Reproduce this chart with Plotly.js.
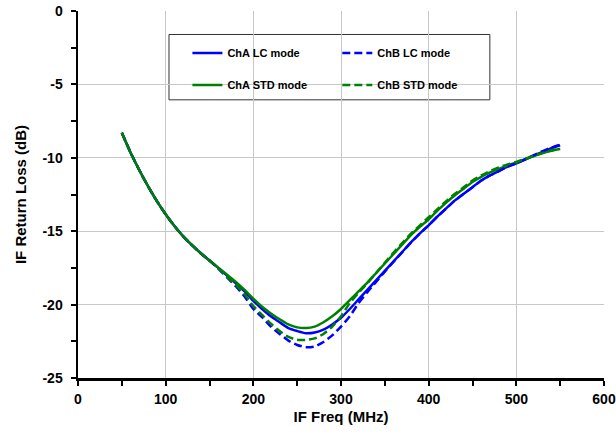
<!DOCTYPE html>
<html>
<head>
<meta charset="utf-8">
<script src="https://cdn.plot.ly/plotly-3.0.1.min.js"></script>
<style>
html, body { margin: 0; padding: 0; background: #fff; }
#chart { width: 616px; height: 435px; }
</style>
</head>
<body>
<div id="chart"></div>
<script>
// IF frequency (MHz)
const freq = [50, 60, 70, 80, 90, 100, 110, 120, 130, 140, 150, 160, 170, 180, 190, 200,
  210, 220, 230, 240, 250, 260, 270, 280, 290, 300, 310, 320, 330, 340, 350, 360, 370, 380,
  390, 400, 410, 420, 430, 440, 450, 460, 470, 480, 490, 500, 510, 520, 530, 540, 550];

// IF return loss (dB)
const chaLC = [-8.3, -9.65, -10.85, -11.95, -12.95, -13.85, -14.65, -15.35, -15.95, -16.5, -17.0, -17.5,
  -18.02, -18.55, -19.1, -19.75, -20.3, -20.8, -21.2, -21.6, -21.8, -21.95, -21.9, -21.7, -21.35,
  -20.9, -20.3, -19.65, -19.0, -18.35, -17.7, -17.05, -16.4, -15.75, -15.15, -14.6, -14.0, -13.45,
  -12.9, -12.45, -12.0, -11.55, -11.2, -10.9, -10.6, -10.38, -10.12, -9.85, -9.6, -9.35, -9.15];

const chbLC = [-8.3, -9.65, -10.85, -11.95, -12.95, -13.85, -14.65, -15.35, -15.95, -16.5, -17.0, -17.55,
  -18.15, -18.75, -19.45, -20.3, -20.85, -21.5, -22.0, -22.45, -22.75, -22.9, -22.85, -22.55, -22.1,
  -21.5, -20.8, -19.9, -19.15, -18.45, -17.75, -17.08, -16.42, -15.77, -15.15, -14.6, -14.0, -13.45,
  -12.9, -12.45, -12.0, -11.55, -11.2, -10.9, -10.6, -10.37, -10.1, -9.82, -9.55, -9.3, -9.1];

const chaSTD = [-8.3, -9.65, -10.85, -11.95, -12.95, -13.85, -14.65, -15.35, -15.95, -16.5, -17.0, -17.48,
  -17.97, -18.45, -19.0, -19.6, -20.15, -20.6, -21.0, -21.35, -21.55, -21.6, -21.5, -21.2, -20.8,
  -20.3, -19.7, -19.1, -18.5, -17.85, -17.2, -16.55, -15.9, -15.25, -14.7, -14.2, -13.6, -13.05,
  -12.55, -12.1, -11.65, -11.3, -11.0, -10.75, -10.52, -10.32, -10.1, -9.88, -9.68, -9.52, -9.4];

const chbSTD = [-8.3, -9.65, -10.85, -11.95, -12.95, -13.85, -14.65, -15.35, -15.95, -16.5, -17.0, -17.52,
  -18.1, -18.65, -19.3, -20.1, -20.7, -21.3, -21.8, -22.2, -22.4, -22.4, -22.3, -22.0, -21.5,
  -20.8, -19.9, -19.2, -18.55, -17.85, -17.15, -16.45, -15.8, -15.15, -14.6, -14.05, -13.5, -12.95,
  -12.45, -12.0, -11.55, -11.2, -10.9, -10.65, -10.45, -10.28, -10.07, -9.86, -9.67, -9.5, -9.38];

const seriesNames = ['ChA LC mode', 'ChB LC mode', 'ChA STD mode', 'ChB STD mode'];
const xTickVals = [0, 100, 200, 300, 400, 500, 600];
const yTickVals = [0, -5, -10, -15, -20, -25];

const FONT = 'Liberation Sans, Arial, sans-serif';
const BLUE = '#0000ff';
const GREEN = '#008000';
const DASH = '8px,4px';

const traces = [
  { x: freq, y: chaLC, name: seriesNames[0], legend: 'legend', legendgroup: 'a1',
    mode: 'lines', line: { color: BLUE, width: 2.5, shape: 'spline', smoothing: 0.6 } },
  { x: freq, y: chaSTD, name: seriesNames[2], legend: 'legend', legendgroup: 'a2',
    mode: 'lines', line: { color: GREEN, width: 2.5, shape: 'spline', smoothing: 0.6 } },
  { x: freq, y: chbLC, name: seriesNames[1], legend: 'legend2', legendgroup: 'b1',
    mode: 'lines', line: { color: BLUE, width: 2.5, dash: DASH, shape: 'spline', smoothing: 0.6 } },
  { x: freq, y: chbSTD, name: seriesNames[3], legend: 'legend2', legendgroup: 'b2',
    mode: 'lines', line: { color: GREEN, width: 2.5, dash: DASH, shape: 'spline', smoothing: 0.6 } }
];

const legendCommon = {
  orientation: 'v', bgcolor: 'rgba(0,0,0,0)', borderwidth: 0,
  font: { family: FONT, size: 11, color: '#000', weight: 'bold' },
  tracegroupgap: 13, xanchor: 'left', yanchor: 'top', itemwidth: 30
};

const bold = v => '<b>' + v + '</b>';

const layout = {
  width: 616, height: 435,
  margin: { l: 78, r: 12, t: 11, b: 57 },
  paper_bgcolor: '#fff', plot_bgcolor: '#fff',
  font: { family: FONT, color: '#000' },
  showlegend: true,
  legend: Object.assign({}, legendCommon, { x: 0.208, y: 0.925 }),
  legend2: Object.assign({}, legendCommon, { x: 0.493, y: 0.925 }),
  shapes: [{
    type: 'rect', xref: 'paper', yref: 'paper',
    x0: 0.173, x1: 0.783, y0: 0.758, y1: 0.936,
    line: { color: '#333', width: 1 }, fillcolor: 'rgba(0,0,0,0)', layer: 'below'
  }],
  xaxis: {
    range: [0, 600], tickvals: xTickVals, ticktext: xTickVals.map(bold),
    showgrid: true, gridcolor: '#c8c8c8', gridwidth: 1, zeroline: false,
    showline: true, linecolor: '#000', linewidth: 2.5,
    ticks: 'outside', ticklen: 5, tickwidth: 2, tickcolor: '#000',
    minor: { dtick: 50, tick0: 0, ticks: 'outside', ticklen: 5, tickwidth: 2, tickcolor: '#000', showgrid: false },
    tickfont: { family: FONT, size: 14, color: '#000' },
    ticklabelstandoff: 2,
    title: { text: '<b>IF Freq (MHz)</b>', font: { family: FONT, size: 15, color: '#000' }, standoff: 5 }
  },
  yaxis: {
    range: [-25, 0], tickvals: yTickVals, ticktext: yTickVals.map(bold),
    showgrid: true, gridcolor: '#c8c8c8', gridwidth: 1, zeroline: false,
    showline: true, linecolor: '#000', linewidth: 2.5,
    ticks: 'outside', ticklen: 5, tickwidth: 2, tickcolor: '#000',
    minor: { dtick: 2.5, tick0: 0, ticks: 'outside', ticklen: 5, tickwidth: 2, tickcolor: '#000', showgrid: false },
    tickfont: { family: FONT, size: 14, color: '#000' },
    ticklabelstandoff: 5,
    title: { text: '<b>IF Return Loss (dB)</b>', font: { family: FONT, size: 15, color: '#000' }, standoff: 12 }
  }
};

Plotly.newPlot('chart', traces, layout, { displayModeBar: false, staticPlot: true });
</script>
</body>
</html>
